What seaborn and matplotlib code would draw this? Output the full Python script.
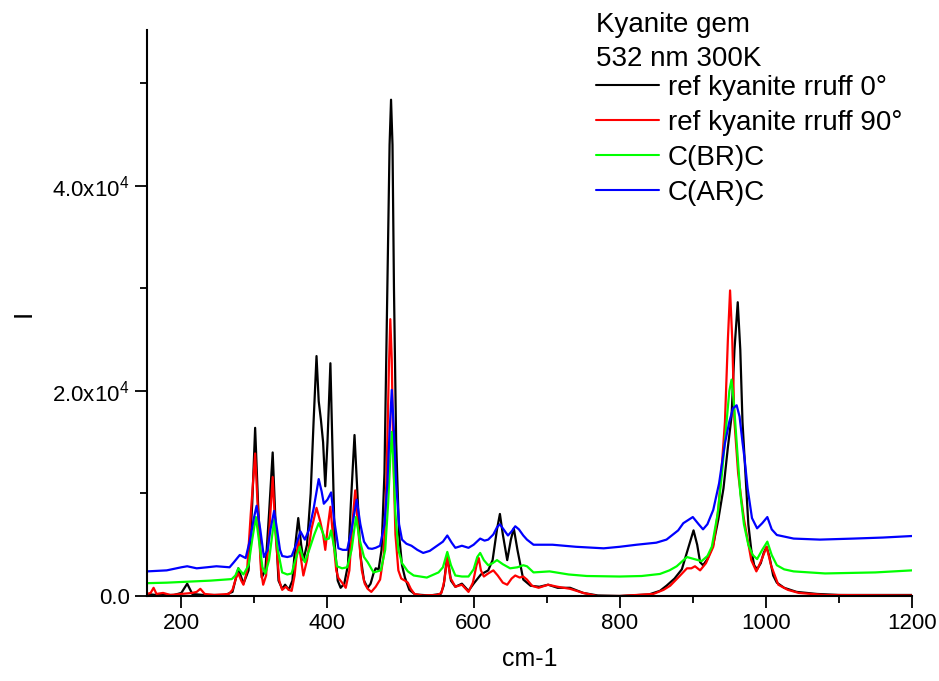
import matplotlib
matplotlib.use('Agg')
import matplotlib.pyplot as plt
from matplotlib.ticker import FuncFormatter, MultipleLocator
import numpy as np
import pandas as pd
import seaborn as sns

# espectros Raman (cm-1, intensidad)
x_ref0 = [153, 165, 190, 200, 208, 215, 230, 260, 270, 278, 285, 292, 297, 301, 305, 310, 315, 320, 325, 329,
          333, 338, 342, 347, 352, 356, 360, 364, 367, 372, 377, 381, 385, 388, 391, 394, 397, 400, 404, 407,
          410, 414, 418, 423, 428, 432, 437, 441, 445, 450, 455, 459, 463, 466, 470, 474, 478, 482, 485, 487,
          489, 491, 494, 498, 502, 506, 512, 520, 540, 555, 559, 564, 569, 575, 584, 593, 600, 610, 620, 626,
          632, 636, 640, 646, 651, 655, 660, 668, 678, 690, 702, 715, 732, 750, 770, 800, 840, 855, 864, 875,
          885, 893, 901, 906, 910, 914, 920, 928, 935, 942, 948, 953, 957, 961.5, 965, 968, 972, 976, 980, 984,
          988, 993, 997, 1001, 1005, 1010, 1015, 1025, 1042, 1070, 1100, 1200]
y_ref0 = [200, 100, 100, 300, 1200, 200, 100, 100, 400, 2700, 1200, 2500, 9000, 16400, 9000, 1800, 2500, 8000, 14000, 7000,
          1500, 700, 1100, 600, 1500, 5000, 7600, 5000, 3500, 5000, 10000, 17000, 23400, 19000, 17200, 15000, 10700, 15000, 22700, 14000,
          5000, 1500, 800, 1200, 3000, 9000, 15700, 10000, 4000, 1500, 800, 1200, 2200, 2700, 2600, 4500, 12000, 30000, 44000, 48400,
          44000, 30000, 15000, 6000, 3000, 1800, 600, 150, 50, 200, 1000, 4000, 1500, 900, 1200, 500, 1200, 2100, 2500, 3500,
          6500, 8000, 6000, 3500, 5500, 6600, 4500, 1600, 1000, 900, 1100, 800, 800, 300, 50, 0, 150, 500, 1000, 1700,
          2600, 4500, 6400, 5000, 3300, 3000, 3600, 5000, 7500, 10500, 14500, 17500, 24000, 28650, 24000, 17000, 12000, 7000, 4500, 3000,
          2600, 3200, 4200, 4800, 3800, 2000, 1300, 800, 400, 200, 100, 100]

x_ref90 = [153, 158, 162, 166, 175, 185, 200, 215, 221, 226, 232, 245, 265, 270, 275, 278, 282, 285, 290, 295,
           301, 305, 309, 312, 316, 320, 325, 329, 334, 338, 343, 347, 351, 355, 360, 364, 367, 372, 378, 385,
           390, 394, 397, 400, 404, 408, 412, 415, 420, 425, 430, 434, 438, 442, 447, 451, 455, 460, 466, 472,
           477, 481, 484, 486, 488, 490, 493, 497, 501, 506, 510, 514, 519, 530, 550, 556, 560, 564, 568, 575,
           584, 593, 599, 604, 607, 610, 614, 620, 627, 633, 640, 646, 652, 657, 663, 668, 673, 680, 689, 702,
           715, 732, 750, 769, 800, 846, 860, 869, 880, 892, 898, 903, 910, 918, 928, 935, 940, 944, 948, 951,
           954, 957, 962, 966, 970, 975, 980, 987, 994, 1001, 1007, 1017, 1030, 1045, 1080, 1200]
y_ref90 = [200, 300, 800, 200, 300, 100, 200, 300, 400, 700, 200, 100, 200, 600, 1800, 2200, 1500, 1100, 2500, 8000,
           13900, 8000, 2500, 1100, 2000, 6000, 11600, 6000, 1500, 600, 900, 600, 500, 2000, 5500, 3500, 2000, 3500, 6500, 8600,
           7300, 6000, 4500, 6500, 8700, 5500, 2500, 1750, 1300, 800, 2500, 7000, 10300, 6500, 2500, 1200, 700, 400, 900, 1600,
           4000, 12000, 22000, 27000, 23000, 14000, 6000, 2500, 1700, 1500, 1300, 700, 200, 50, 100, 300, 1500, 3800, 1800, 900,
           1100, 400, 1300, 3000, 3700, 2500, 1900, 2200, 2500, 2000, 1300, 1100, 1700, 2000, 1800, 1900, 1600, 1000, 800, 1100,
           900, 700, 300, 0, 0, 200, 600, 1000, 1800, 2700, 2700, 2900, 2500, 3200, 4800, 8500, 13000, 17000, 25000, 29800,
           25000, 17000, 12000, 9700, 7500, 5500, 3500, 2400, 3500, 4800, 3000, 1100, 600, 300, 100, 50]

x_br = [153, 180, 210, 240, 269, 274, 278, 285, 292, 297, 302, 307, 311, 315, 320, 327, 332, 338, 345, 351,
        356, 362, 366, 369, 375, 382, 388, 393, 397, 402, 405, 409, 413, 420, 427, 433, 439, 444, 450, 455,
        463, 473, 479, 483, 486, 488, 490, 493, 497, 502, 510, 518, 536, 552, 558, 564, 569, 575, 584, 593,
        600, 605, 609, 614, 620, 626, 632, 640, 650, 660, 668, 673, 682, 704, 730, 755, 800, 830, 855, 868,
        878, 892, 902, 912, 920, 926, 934, 940, 945, 950, 953, 956, 960, 965, 970, 976, 982, 988, 995, 1002,
        1008, 1015, 1025, 1038, 1081, 1150, 1200]
y_br = [1250, 1300, 1400, 1500, 1650, 2000, 2700, 2100, 3000, 5500, 7700, 5000, 2800, 2200, 3500, 7400, 4500, 2300, 2100, 2200,
        3500, 4800, 3800, 3300, 4500, 6000, 7100, 6300, 5500, 5600, 6400, 4800, 2900, 2700, 2800, 4500, 7700, 5500, 3800, 3300,
        2300, 2500, 4500, 9000, 13500, 16000, 13500, 8000, 4500, 3200, 2400, 2000, 1800, 2300, 2800, 4300, 3000, 2000, 1900, 1900,
        2600, 3800, 4200, 3500, 3000, 3200, 3500, 3100, 2700, 2800, 3000, 2900, 2300, 2400, 2100, 1950, 1900, 1950, 2150, 2500,
        2900, 3800, 3600, 3400, 3900, 4800, 8000, 12000, 16000, 20000, 21100, 19000, 15000, 10000, 7000, 5000, 4000, 3600, 4500, 5300,
        4000, 3000, 2600, 2400, 2200, 2300, 2500]

x_ar = [153, 180, 200, 208, 221, 235, 248, 266, 272, 280, 288, 294, 299, 303, 308, 313, 318, 322, 327, 331,
        335, 338, 345, 351, 357, 363, 369, 375, 381, 388, 392, 395, 400, 405, 409, 415, 421, 427, 433, 440,
        445, 450, 456, 461, 466, 472, 478, 482, 485, 488, 491, 494, 498, 502, 508, 515, 523, 531, 540, 552,
        558, 564, 570, 575, 584, 593, 600, 609, 615, 620, 627, 632, 636, 641, 647, 652, 657, 662, 668, 673,
        682, 708, 740, 778, 800, 823, 850, 864, 880, 887, 900, 908, 914, 920, 928, 936, 944, 950, 955, 960,
        964, 968, 971, 975, 981, 988, 995, 1002, 1008, 1015, 1038, 1074, 1120, 1160, 1200]
y_ar = [2400, 2500, 2800, 2900, 2700, 2800, 2900, 2800, 3300, 4000, 3700, 5500, 7500, 8800, 6500, 3800, 4500, 6500, 8300, 6500,
        4500, 3900, 3800, 3900, 5000, 6300, 5500, 6500, 8500, 11400, 10200, 9000, 9400, 10100, 7500, 4650, 4500, 4500, 6500, 9400,
        7000, 5300, 4650, 4600, 4700, 4900, 7000, 11000, 16000, 20100, 16000, 11000, 7000, 5500, 5100, 4900, 4500, 4200, 4400, 5000,
        5300, 5900, 5200, 4700, 4900, 4700, 5000, 5600, 5400, 5500, 6000, 6700, 7000, 6500, 5900, 6300, 6800, 6500, 5900, 5500,
        5000, 5000, 4800, 4650, 4800, 5000, 5200, 5500, 6400, 7100, 7700, 7000, 6500, 7000, 8400, 11000, 14900, 17000, 18300, 18600,
        17500, 15000, 13300, 10500, 7600, 6600, 7100, 7700, 6500, 5950, 5600, 5500, 5600, 5700, 5850]

etiquetas = ['ref kyanite rruff 0°', 'ref kyanite rruff 90°', 'C(BR)C', 'C(AR)C']
colores = ['#000000', '#ff0000', '#00ff00', '#0000ff']
titulo = ['Kyanite gem', '532 nm 300K']

partes = []
for nombre, xs, ys in zip(etiquetas, [x_ref0, x_ref90, x_br, x_ar], [y_ref0, y_ref90, y_br, y_ar]):
    partes.append(pd.DataFrame({'cm-1': xs, 'I': ys, 'muestra': nombre}))
df = pd.concat(partes, ignore_index=True)

sns.set_theme(style='ticks')
plt.rcParams['font.family'] = ['Liberation Sans', 'DejaVu Sans']
plt.rcParams['mathtext.fontset'] = 'custom'
plt.rcParams['mathtext.rm'] = 'Liberation Sans'
plt.rcParams['mathtext.it'] = 'Liberation Sans:italic'
plt.rcParams['text.color'] = 'black'
plt.rcParams['axes.labelcolor'] = 'black'

fig = plt.figure(figsize=(9.39, 6.81), dpi=100)
ax = fig.add_axes([147 / 939, 85 / 681, (912 - 147) / 939, (596 - 30) / 681])

sns.lineplot(data=df, x='cm-1', y='I', hue='muestra', hue_order=etiquetas, palette=colores,
             sort=False, estimator=None, linewidth=1.6, ax=ax)

ax.set_xlim(153, 1200)
ax.set_ylim(0, 55200)
ax.xaxis.set_major_locator(MultipleLocator(200))
ax.xaxis.set_minor_locator(MultipleLocator(100))
ax.yaxis.set_major_locator(MultipleLocator(20000))
ax.yaxis.set_minor_locator(MultipleLocator(10000))


def formato_y(v, pos):
    if v == 0:
        return '0.0'
    e = int(np.floor(np.log10(abs(v))))
    return rf'{v / 10**e:.1f}x10$^{{{e}}}$'


ax.yaxis.set_major_formatter(FuncFormatter(formato_y))
ax.tick_params(axis='both', which='major', direction='out', length=8.5, width=1.3, pad=4,
               labelsize=16, colors='black')
ax.tick_params(axis='both', which='minor', direction='out', length=5, width=1.3, colors='black')
for lado in ['top', 'right']:
    ax.spines[lado].set_visible(False)
for lado in ['left', 'bottom']:
    ax.spines[lado].set_linewidth(1.5)
    ax.spines[lado].set_color('black')

ax.set_xlabel('cm-1', fontsize=18)
ax.xaxis.set_label_coords(0.5, -(647 - 596) / 566)
ax.set_ylabel('I', fontsize=19)
ax.yaxis.set_label_coords((36 - 147) / 765, 0.5)

# titulo de la leyenda en dos lineas de texto
fig.text(596 / 939, 1 - 32 / 681, titulo[0], fontsize=20, va='baseline', ha='left')
fig.text(596 / 939, 1 - 66 / 681, titulo[1], fontsize=20, va='baseline', ha='left')

leg = ax.legend(loc='upper left', bbox_to_anchor=(596 / 939, 1 - 75 / 681),
                bbox_transform=fig.transFigure, frameon=False, fontsize=20,
                handlelength=2.27, handletextpad=0.32, labelspacing=0.32, borderpad=0, borderaxespad=0)
for linea in leg.get_lines():
    linea.set_linewidth(1.5)

fig.savefig('out.png', dpi=100)
plt.close(fig)
